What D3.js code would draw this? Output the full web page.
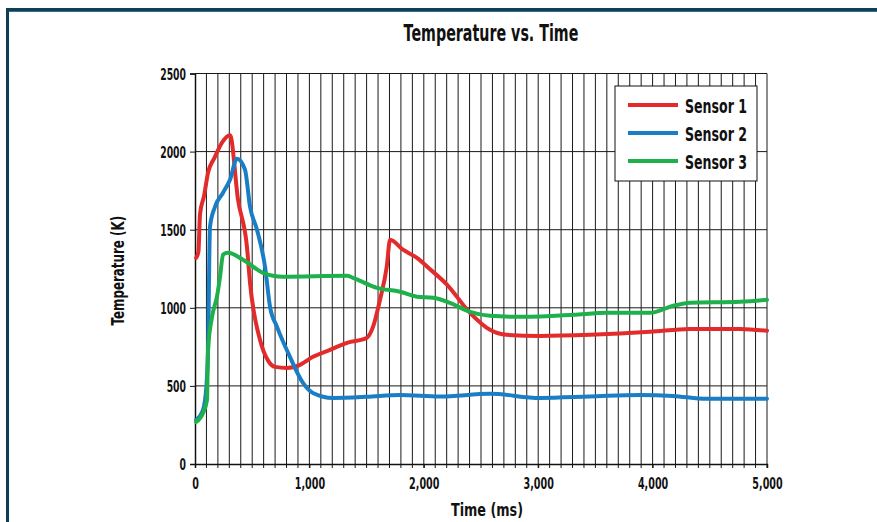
<!DOCTYPE html>
<html>
<head>
<meta charset="utf-8">
<script src="https://cdn.jsdelivr.net/npm/d3@7"></script>
<style>
  body { margin: 0; background: #fff; }
  svg { display: block; font-family: 'DejaVu Sans', sans-serif; font-weight: bold; }
</style>
</head>
<body>
<svg id="chart" width="877" height="522"></svg>
<script>
const seriesNames = ['Sensor 1', 'Sensor 2', 'Sensor 3']
const seriesColors = ['#e32b2b', '#1a7ec6', '#1db04b']

// [time ms, temperature K]
const sensor1 = [
  [10, 1320], [30, 1360], [44, 1600], [80, 1720], [114, 1865], [170, 1960], [236, 2058], [306, 2105],
  [376, 1692], [454, 1391], [481, 1160], [568, 795], [640, 660], [699, 622], [804, 615],
  [918, 635], [1031, 686], [1180, 731], [1329, 776], [1500, 807], [1556, 878], [1617, 1051],
  [1676, 1263], [1705, 1436], [1818, 1372], [1940, 1320], [2050, 1250], [2200, 1150],
  [2404, 968], [2579, 859], [2724, 827], [3016, 820], [3453, 827], [3977, 846], [4327, 865],
  [4764, 865], [5000, 853]
]
const sensor2 = [
  [10, 282], [70, 346], [100, 500], [114, 731], [131, 1519], [175, 1647], [245, 1737], [306, 1820],
  [367, 1955], [437, 1885], [481, 1647], [542, 1500], [612, 1263], [656, 1006], [717, 878],
  [830, 686], [944, 519], [1031, 455], [1206, 423], [1500, 430], [1792, 442], [2142, 432],
  [2579, 449], [3016, 423], [3450, 432], [3890, 442], [4178, 436], [4475, 417], [5000, 417]
]
const sensor3 = [
  [10, 269], [70, 327], [105, 410], [114, 731], [149, 942], [192, 1071], [219, 1199], [245, 1340],
  [288, 1352], [420, 1308], [594, 1224], [769, 1199], [1329, 1205], [1381, 1192], [1590, 1128],
  [1792, 1103], [1940, 1071], [2080, 1064], [2229, 1032], [2404, 974], [2579, 949], [2870, 942],
  [3307, 955], [3598, 968], [3977, 968], [4182, 1013], [4327, 1032], [4764, 1038], [5000, 1051]
]
const xTicks = [0, 1000, 2000, 3000, 4000, 5000]
const yTicks = [0, 500, 1000, 1500, 2000, 2500]

const svg = d3.select('#chart')
const margin = { left: 195, right: 110, top: 73.5, bottom: 58 }
const width = 877 - margin.left - margin.right
const height = 522 - margin.top - margin.bottom

// condensed look: DejaVu squeezed horizontally
function label(parent, X, Y, txt, size, sx, anchor) {
  return parent.append('text')
    .attr('transform', 'translate(' + X + ',' + Y + ') scale(' + sx + ',1)')
    .attr('text-anchor', anchor || 'start')
    .attr('font-size', size)
    .attr('fill', '#111')
    .text(txt)
}

// page frame (top and left rules)
svg.append('rect').attr('x', 6).attr('y', 8).attr('width', 871).attr('height', 3).attr('fill', '#0e3f56')
svg.append('rect').attr('x', 9).attr('y', 11).attr('width', 868).attr('height', 1).attr('fill', '#3d7088')
svg.append('rect').attr('x', 6).attr('y', 8).attr('width', 3).attr('height', 514).attr('fill', '#0e3f56')

const g = svg.append('g').attr('transform', 'translate(' + margin.left + ',' + margin.top + ')')

const x = d3.scaleLinear().domain([0, 5000]).range([0, width])
const y = d3.scaleLinear().domain([0, 2500]).range([height, 0])

// vertical grid every 100 ms
g.append('g')
  .selectAll('line')
  .data(d3.range(100, 5001, 100))
  .enter()
  .append('line')
  .attr('x1', d => x(d)).attr('x2', d => x(d))
  .attr('y1', 0).attr('y2', height + 4)
  .attr('stroke', '#1a1a1a').attr('stroke-width', 1)

// horizontal grid
g.append('g')
  .selectAll('line')
  .data(yTicks.slice(1))
  .enter()
  .append('line')
  .attr('x1', 0).attr('x2', width)
  .attr('y1', d => y(d)).attr('y2', d => y(d))
  .attr('stroke', '#1a1a1a').attr('stroke-width', 1)

// axes
const xAxis = g.append('g')
  .attr('transform', 'translate(0,' + height + ')')
  .call(d3.axisBottom(x).tickValues(xTicks).tickSize(4).tickFormat(d3.format(',')))
const yAxis = g.append('g')
  .call(d3.axisLeft(y).tickValues(yTicks).tickSize(5).tickFormat(d3.format('d')))

;[xAxis, yAxis].forEach(a => {
  a.select('.domain').attr('stroke', '#111').attr('stroke-width', 1.5)
  a.selectAll('.tick line').attr('stroke', '#111')
  a.selectAll('text')
    .attr('font-family', "'DejaVu Sans', sans-serif")
    .attr('font-weight', 'bold')
    .attr('font-size', 16)
    .attr('fill', '#111')
})
xAxis.selectAll('text').attr('y', 0).attr('dy', 0)
  .attr('transform', 'translate(0,25) scale(0.6,1)')
yAxis.selectAll('text').attr('x', 0).attr('dy', '0.36em')
  .attr('transform', 'translate(-9,0) scale(0.58,1)')

// lines
const line = d3.line()
  .x(d => x(d[0]))
  .y(d => y(d[1]))
  .curve(d3.curveMonotoneX)

const allSeries = [sensor1, sensor2, sensor3]
g.selectAll('.series')
  .data(allSeries)
  .enter()
  .append('path')
  .attr('class', 'series')
  .attr('d', line)
  .attr('fill', 'none')
  .attr('stroke', (d, i) => seriesColors[i])
  .attr('stroke-width', 4)
  .attr('stroke-linejoin', 'round')
  .attr('stroke-linecap', 'round')

// legend
const legend = svg.append('g').attr('transform', 'translate(615,86)')
legend.append('rect')
  .attr('width', 142).attr('height', 95)
  .attr('fill', '#fff').attr('stroke', '#111').attr('stroke-width', 1)
seriesNames.forEach((name, i) => {
  const row = legend.append('g').attr('transform', 'translate(0,' + (19 + i * 28) + ')')
  row.append('line')
    .attr('x1', 13).attr('x2', 63)
    .attr('stroke', seriesColors[i]).attr('stroke-width', 4)
  label(row, 70, 7.5, name, 20, 0.63)
})

// titles
label(svg, 491, 41, 'Temperature vs. Time', 23, 0.62, 'middle')
label(svg, 487, 516, 'Time (ms)', 18, 0.71, 'middle')
label(svg.append('g').attr('transform', 'translate(124,' + (margin.top + height / 2 + 2) + ') rotate(-90)'),
  0, 0, 'Temperature (K)', 18, 0.66, 'middle')
</script>
</body>
</html>
